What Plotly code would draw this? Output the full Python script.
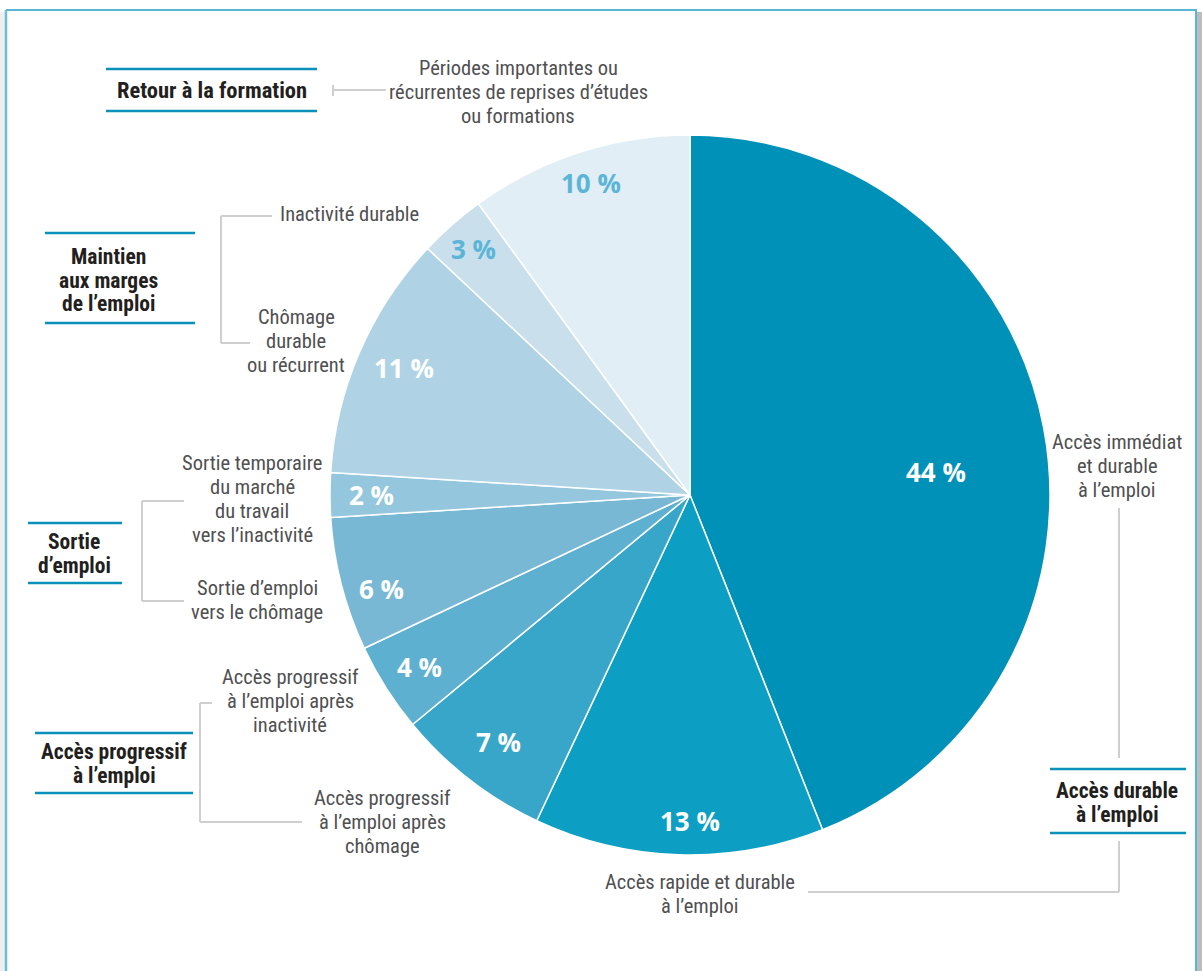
import math
import plotly.graph_objects as go

# ---------------- data ----------------
categories = [
    "Accès immédiat et durable à l'emploi",
    "Accès rapide et durable à l'emploi",
    "Accès progressif à l'emploi après chômage",
    "Accès progressif à l'emploi après inactivité",
    "Sortie d'emploi vers le chômage",
    "Sortie temporaire du marché du travail vers l'inactivité",
    "Chômage durable ou récurrent",
    "Inactivité durable",
    "Périodes importantes ou récurrentes de reprises d'études ou formations",
]
values = [44, 13, 7, 4, 6, 2, 11, 3, 10]
pct_labels = [f"{v} %" for v in values]

# ---------------- style ----------------
W, H = 1202, 971
slice_colors = ["#0091b9", "#0c9ec3", "#38a6c9", "#5eb0d1", "#79b8d5",
                "#94c6de", "#afd2e5", "#c9e0ec", "#e1eef5"]
text_colors = ["white"] * 7 + ["#5cb5d7", "#5cb5d7"]
label_radius = [0.685, 0.905, 0.87, 0.89, 0.895, 0.885, 0.87, 0.91, 0.91]
label_angle_shift = [5.4, -1.8, 0, 0, -2.5, 0, 0.5, 0, 0.5]

CX, CY, R = 690, 495, 360
TEAL = "#0a91b9"
GRAY_LINE = "#cfcfcf"
LABEL_FONT = "Liberation Sans Narrow, Roboto Condensed, Roboto, sans-serif"
LABEL_COLOR = "#4f5052"
HEAD_COLOR = "#231f20"
LINE_H = 24


def px(x):
    return x / W


def py(y):
    return 1 - y / H


fig = go.Figure()
fig.add_trace(go.Pie(
    labels=categories,
    values=values,
    sort=False,
    direction="clockwise",
    rotation=0,
    marker=dict(colors=slice_colors, line=dict(color="white", width=1.5)),
    textinfo="none",
    hoverinfo="label+percent",
    showlegend=False,
    domain=dict(x=[px(CX - R), px(CX + R)], y=[py(CY + R), py(CY - R)]),
))

annotations = []
# percentage labels, positioned on each slice's mid-angle
total = sum(values)
cum = 0
for v, t, col, rf, da in zip(values, pct_labels, text_colors, label_radius, label_angle_shift):
    mid = (cum + v / 2) / total * 2 * math.pi + math.radians(da)
    cum += v
    x = CX + rf * R * math.sin(mid)
    y = CY - rf * R * math.cos(mid)
    annotations.append(dict(
        x=px(x), y=py(y), xref="paper", yref="paper", text=f"<b>{t}</b>", showarrow=False,
        font=dict(family="Open Sans, sans-serif", size=26, color=col),
        xanchor="center", yanchor="middle"))


def label(text, x, y, bold=False, size=20.5, xanchor="center"):
    lines = text.split("\n")
    n = len(lines)
    for i, ln in enumerate(lines):
        yy = y + (i - (n - 1) / 2) * LINE_H
        annotations.append(dict(
            x=px(x), y=py(yy), xref="paper", yref="paper",
            text=f"<b>{ln}</b>" if bold else ln, showarrow=False,
            align="center", xanchor=xanchor, yanchor="middle",
            font=dict(family=LABEL_FONT, size=size,
                      color=HEAD_COLOR if bold else LABEL_COLOR)))


HS = 21.5
# group headers
label("Retour à la formation", 212, 90, bold=True, size=22.5)
label("Maintien\naux marges\nde l’emploi", 108, 280, bold=True, size=HS)
label("Sortie\nd’emploi", 74, 553, bold=True, size=HS)
label("Accès progressif\nà l’emploi", 114, 763, bold=True, size=HS)
label("Accès durable\nà l’emploi", 1117, 802, bold=True, size=HS)

# category labels
label("Périodes importantes ou\nrécurrentes de reprises d’études\nou formations", 518, 92)
label("Inactivité durable", 278, 214, xanchor="left")
label("Chômage\ndurable\nou récurrent", 296, 341)
label("Sortie temporaire\ndu marché\ndu travail\nvers l’inactivité", 252, 499)
label("Sortie d’emploi\nvers le chômage", 257, 600)
label("Accès progressif\nà l’emploi après\ninactivité", 290, 701)
label("Accès progressif\nà l’emploi après\nchômage", 382, 822)
label("Accès immédiat\net durable\nà l’emploi", 1117, 466)
label("Accès rapide et durable\nà l’emploi", 700, 894)

shapes = []


def line(x0, y0, x1, y1, color, width):
    shapes.append(dict(type="line", xref="paper", yref="paper",
                       x0=px(x0), y0=py(y0), x1=px(x1), y1=py(y1),
                       line=dict(color=color, width=width), layer="above"))


# frame with shadow
shapes.append(dict(type="rect", xref="paper", yref="paper",
                   x0=px(1197), x1=px(1202), y0=py(980), y1=py(12),
                   fillcolor="#bdbdbd", line=dict(width=0), layer="below"))
shapes.append(dict(type="rect", xref="paper", yref="paper",
                   x0=px(0), x1=px(5), y0=py(980), y1=py(12),
                   fillcolor="#efefef", line=dict(width=0), layer="below"))
line(6, 10, 1197, 10, "#5ab7d4", 2)
line(6, 10, 6, 975, "#6cbfda", 2.5)
line(1196, 10, 1196, 975, "#5ab7d4", 2)

# teal header rules
for (x0, x1, y0, y1) in [(106, 317, 69, 111), (45, 195, 233, 323),
                         (28, 122, 523, 583), (35, 193, 733, 793),
                         (1050, 1186, 769, 833)]:
    line(x0, y0, x1, y0, TEAL, 2.5)
    line(x0, y1, x1, y1, TEAL, 2.5)

# gray connectors / brackets
line(333, 85, 333, 96, GRAY_LINE, 2)
line(333, 90, 386, 90, GRAY_LINE, 2)

line(221, 216, 272, 216, GRAY_LINE, 2)
line(221, 216, 221, 343, GRAY_LINE, 2)
line(221, 343, 250, 343, GRAY_LINE, 2)

line(142, 501, 184, 501, GRAY_LINE, 2)
line(142, 501, 142, 601, GRAY_LINE, 2)
line(142, 601, 184, 601, GRAY_LINE, 2)

line(200, 703, 212, 703, GRAY_LINE, 2)
line(200, 703, 200, 822, GRAY_LINE, 2)
line(200, 822, 302, 822, GRAY_LINE, 2)

line(1119, 508, 1119, 758, GRAY_LINE, 2)
line(1119, 841, 1119, 892, GRAY_LINE, 2)
line(1119, 892, 808, 892, GRAY_LINE, 2)

fig.update_layout(
    width=W, height=H,
    margin=dict(l=0, r=0, t=0, b=0),
    paper_bgcolor="white",
    plot_bgcolor="white",
    annotations=annotations,
    shapes=shapes,
)

fig.write_html("out.html")
